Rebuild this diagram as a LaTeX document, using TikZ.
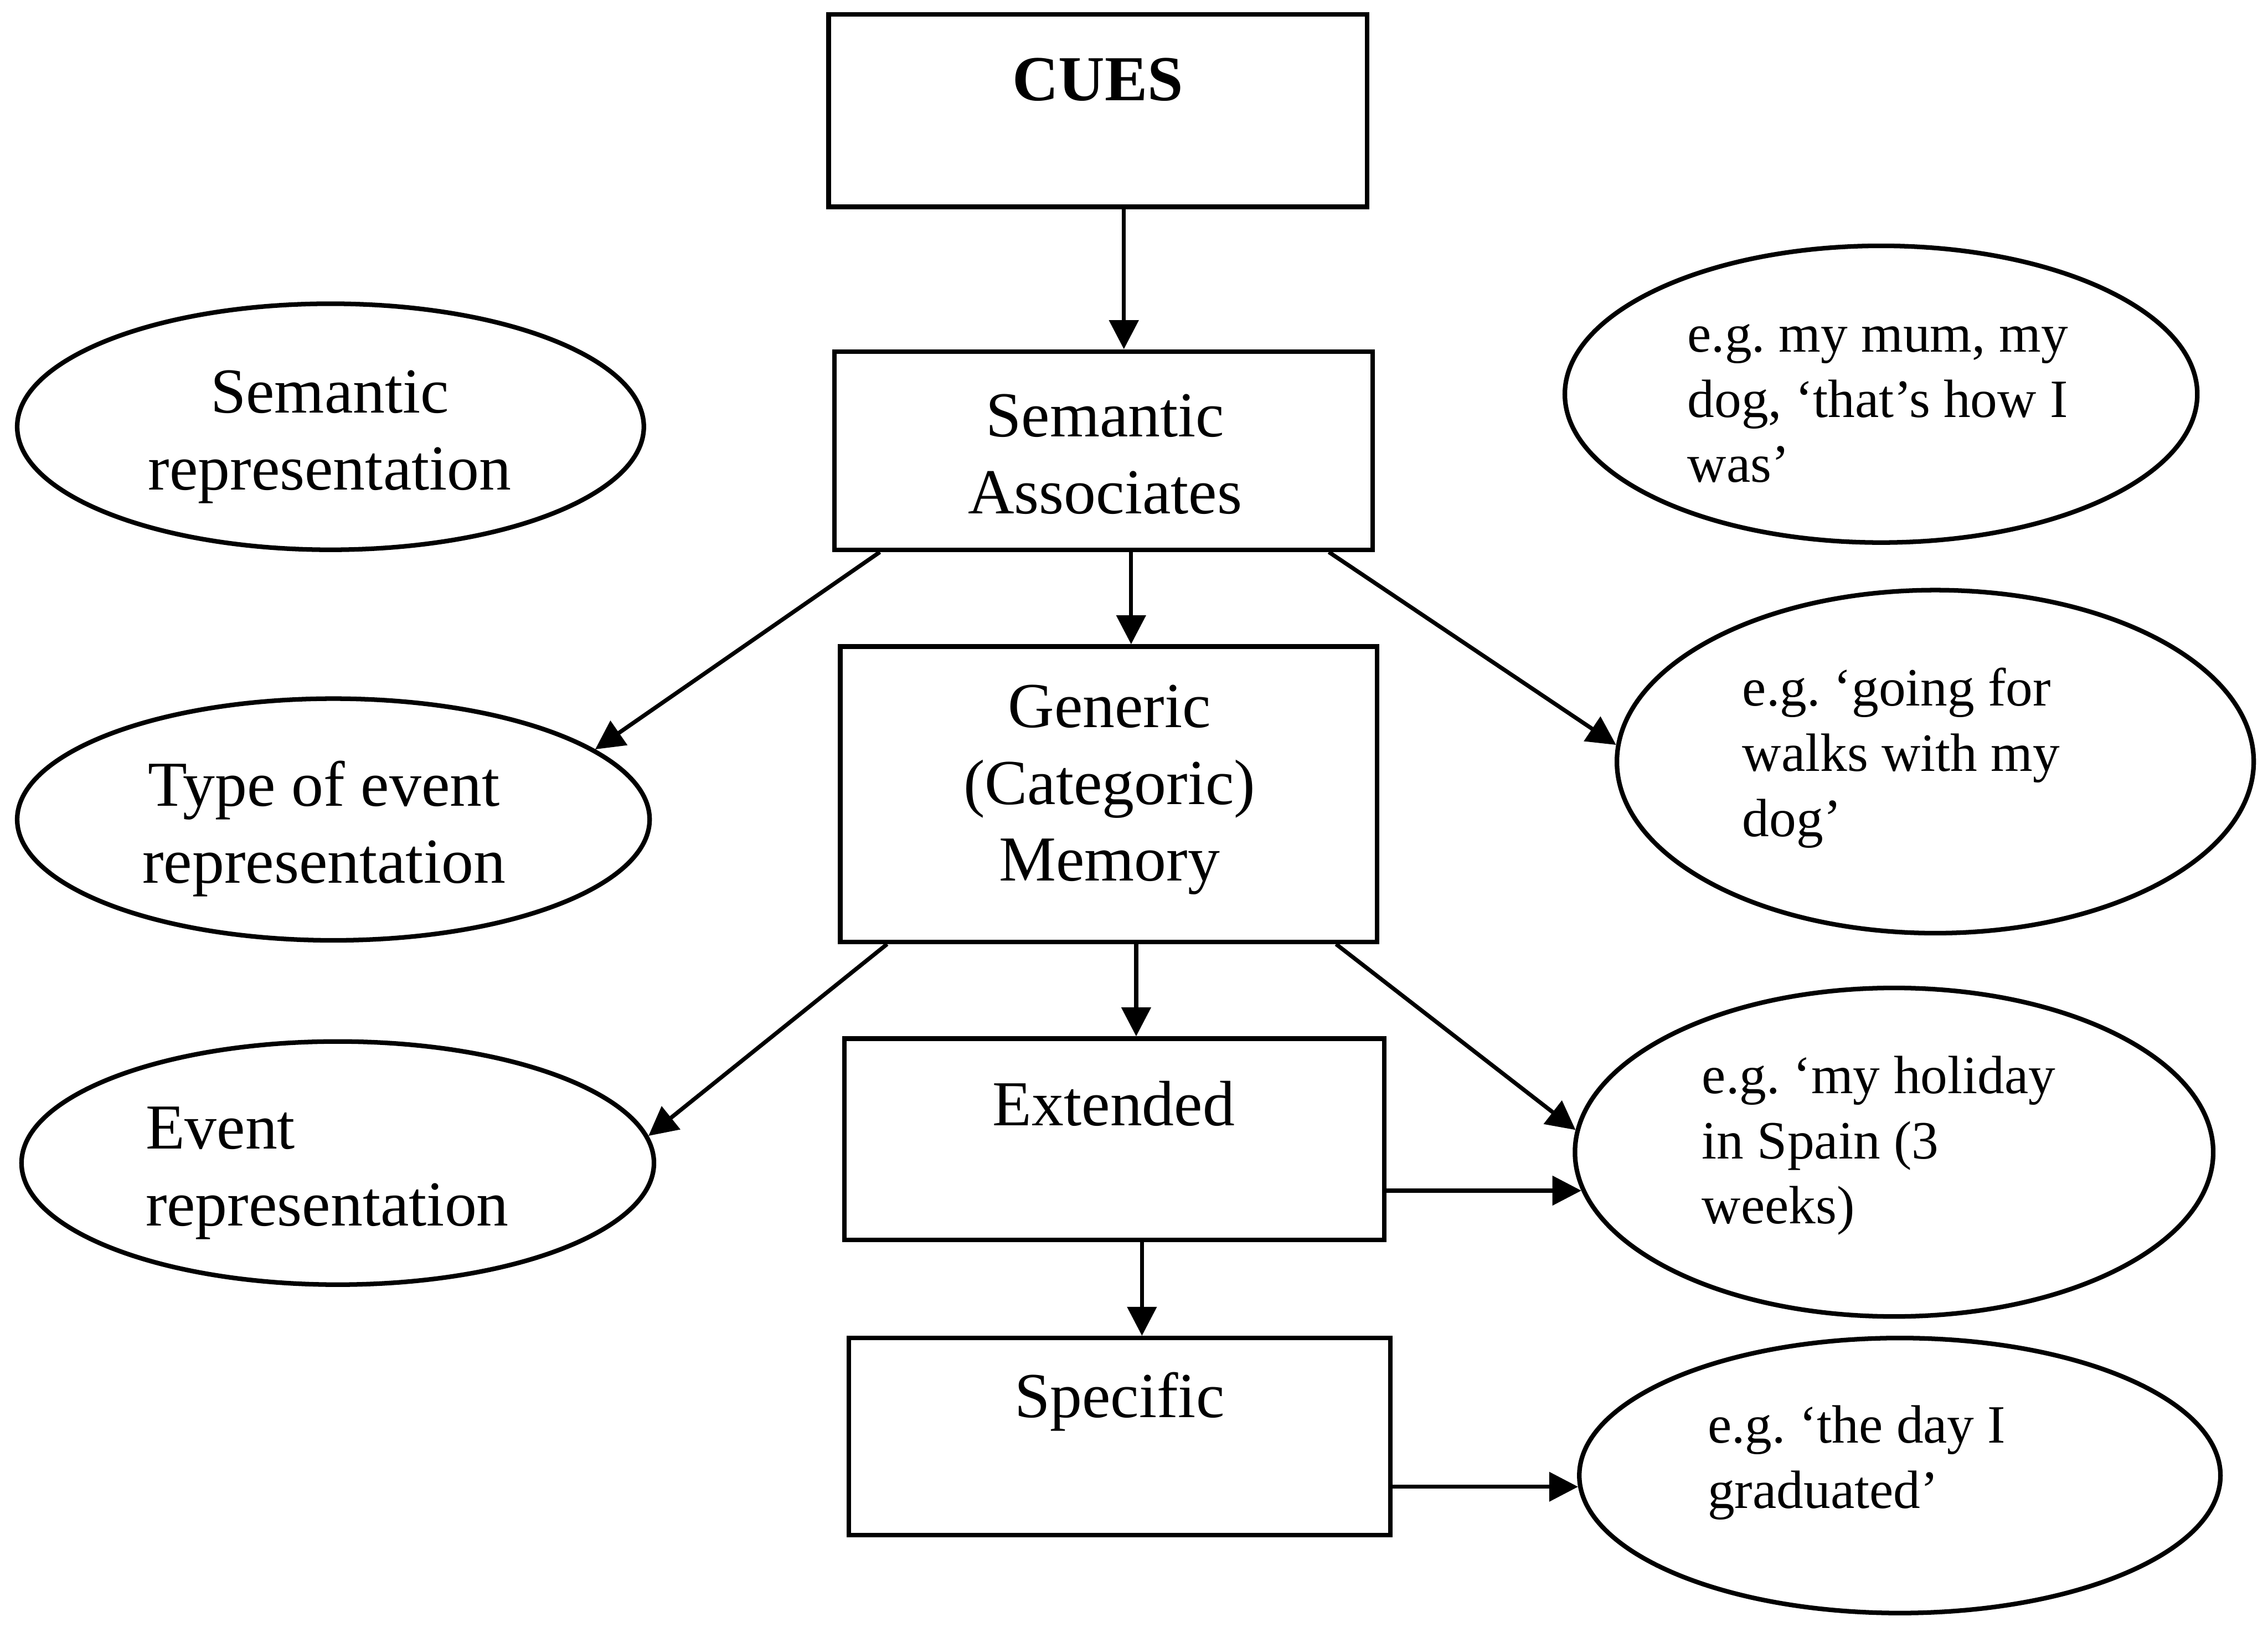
\documentclass[tikz,border=0pt]{standalone}
\usepackage{fontspec}
\setmainfont{Liberation Serif}
\usetikzlibrary{shapes.geometric,arrows.meta,calc}
\begin{document}
\begin{tikzpicture}[x=0.01cm,y=-0.01cm,
  stage/.style={draw,line width=0.9pt,rectangle,inner sep=0pt,align=center,
    font=\fontsize{12.6}{15.1}\selectfont},
  oval/.style={draw,line width=0.9pt,ellipse,inner sep=0pt},
  bigtext/.style={inner sep=0pt,align=left,font=\fontsize{12.6}{15.1}\selectfont},
  smalltext/.style={inner sep=0pt,align=left,font=\fontsize{10.6}{12.8}\selectfont},
  arr/.style={line width=0.8pt,-{Triangle[length=0.2cm,width=0.2cm]}}]
\useasboundingbox (0,0) rectangle (1568,1128);

% central column of memory levels
\node[stage,minimum width=3.72cm,minimum height=1.33cm] (cues) at (759,76.5) {};
\node[bigtext,font=\fontsize{12.6}{15.1}\selectfont\bfseries] (cuestext) at (759,55) {CUES};
\node[stage,minimum width=3.72cm,minimum height=1.37cm] (sa) at (763,311.5) {};
\node[bigtext,align=center] (satext) at (764,314) {Semantic\\Associates};
\node[stage,minimum width=3.71cm,minimum height=2.04cm] (gen) at (766.5,549) {};
\node[bigtext,align=center] (gentext) at (767,546) {Generic\\(Categoric)\\Memory};
\node[stage,minimum width=3.73cm,minimum height=1.39cm] (ext) at (770.5,787.5) {};
\node[bigtext] (exttext) at (770,763) {Extended};
\node[stage,minimum width=3.74cm,minimum height=1.36cm] (spec) at (774,993) {};
\node[bigtext] (spectext) at (774,969) {Specific};

% representations on the left
\node[oval,minimum width=4.33cm,minimum height=1.70cm] (semrep) at (228.5,295) {};
\node[bigtext,align=center] (semreptext) at (228,302) {Semantic\\representation};
\node[oval,minimum width=4.37cm,minimum height=1.67cm] (type) at (230.5,566.5) {};
\node[bigtext,align=center] (typetext) at (224,573) {Type of event\\representation};
\node[oval,minimum width=4.37cm,minimum height=1.68cm] (event) at (233.5,804) {};
\node[bigtext,anchor=west] (eventtext) at (100,811) {Event\\representation};

% examples on the right
\node[oval,minimum width=4.37cm,minimum height=2.05cm] (mum) at (1300.5,272.5) {};
\node[smalltext,anchor=west] (mumtext) at (1166,279) {e.g.\ my mum, my\\dog, ‘that’s how I\\was’};
\node[oval,minimum width=4.40cm,minimum height=2.37cm] (going) at (1338,526.5) {};
\node[smalltext,anchor=west] (goingtext) at (1204,524) {e.g.\ ‘going for\\walks with my\\dog’};
\node[oval,minimum width=4.41cm,minimum height=2.27cm] (hol) at (1309.5,796.5) {};
\node[smalltext,anchor=west] (holtext) at (1176,792) {e.g.\ ‘my holiday\\in Spain (3\\weeks)};
\node[oval,minimum width=4.43cm,minimum height=1.90cm] (day) at (1313.5,1020) {};
\node[smalltext,anchor=west] (daytext) at (1180,1011) {e.g.\ ‘the day I\\graduated’};

% downward flow
\draw[arr] ($(cues.south)+(18,0)$) coordinate (c1) -- (c1 |- sa.north);
\draw[arr] ($(sa.south)+(19,0)$) coordinate (c2) -- (c2 |- gen.north);
\draw[arr] ($(gen.south)+(19,0)$) coordinate (c3) -- (c3 |- ext.north);
\draw[arr] ($(ext.south)+(19,0)$) coordinate (c4) -- (c4 |- spec.north);

% branches to the sides
\draw[arr] ($(sa.south west)+(33,0)$) -- (type.15);
\draw[arr] ($(sa.south east)+(-32,0)$) -- (going.177);
\draw[arr] ($(gen.south west)+(34,0)$) -- (event.5);
\draw[arr] ($(gen.south east)+(-30,0)$) -- (hol.176);
\draw[arr] (ext.east |- hol.187) -- (hol.187);
\draw[arr] (spec.east |- day.182) -- (day.182);
\end{tikzpicture}
\end{document}
